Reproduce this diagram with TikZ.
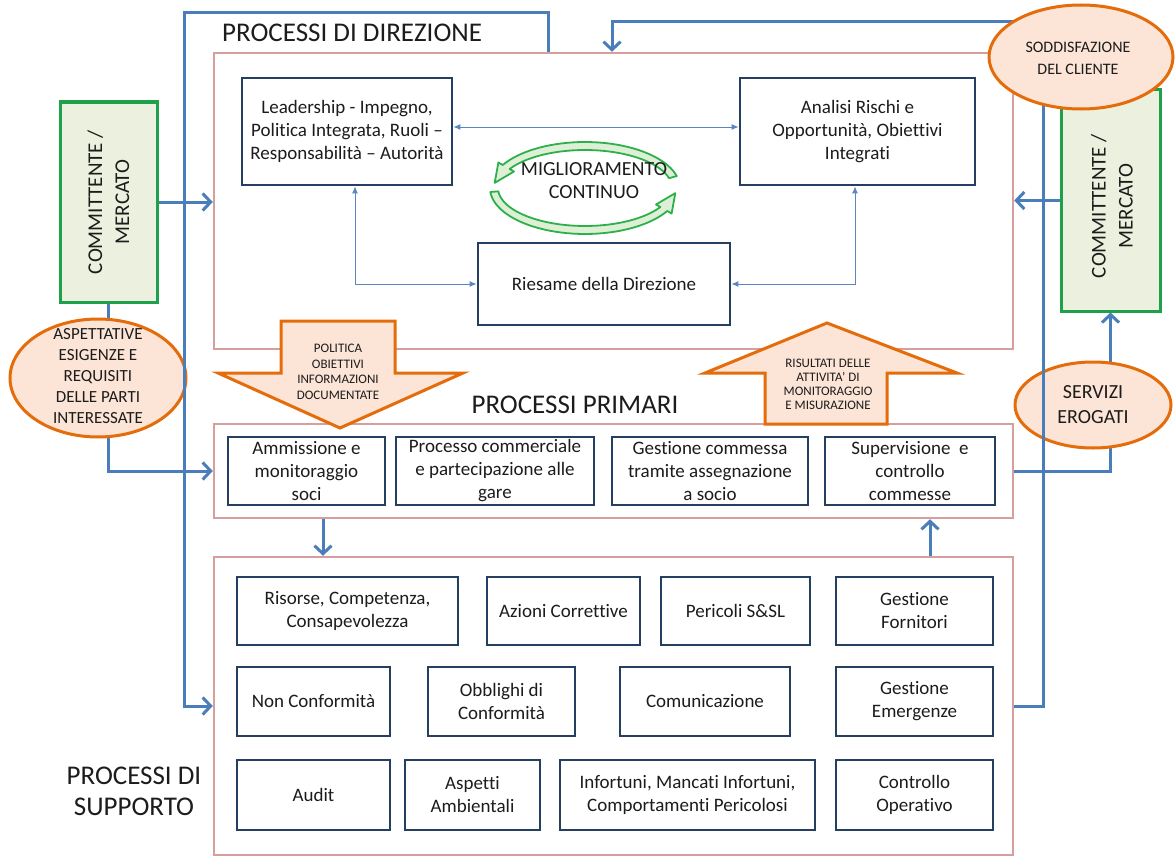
\documentclass[tikz,border=0pt]{standalone}
\usepackage{fontspec}
\setmainfont{Carlito}[Ligatures={NoCommon,NoRequired,NoContextual}, RawFeature=-calt]
\usetikzlibrary{arrows.meta,calc,shapes.geometric}
\definecolor{linkblue}{HTML}{4A7EBB}
\definecolor{framepink}{HTML}{D69E9C}
\definecolor{boxnavy}{HTML}{243F60}
\definecolor{thinblue}{HTML}{5B87C0}
\definecolor{cgreen}{HTML}{1FA04A}
\definecolor{cgreenfill}{HTML}{EBF1DE}
\definecolor{orangeline}{HTML}{E46C0A}
\definecolor{orangefill}{HTML}{FCE4D6}
\definecolor{turngreen}{HTML}{2DB04B}
\definecolor{turnfill}{HTML}{DDF0D5}
\definecolor{ink}{HTML}{1C1C1C}

\begin{document}
\begin{tikzpicture}[x=1pt,y=-1pt,
  every node/.style={text=ink},
  frame/.style={draw=framepink, line width=2.5pt, minimum width=799pt, inner sep=0pt},
  pbox/.style={draw=boxnavy, line width=2.8pt, fill=white, align=center, inner sep=1pt, font=\fontsize{19}{23}\selectfont},
  title/.style={font=\fontsize{27}{31}\selectfont, align=center, inner sep=0pt},
  link/.style={draw=linkblue, line width=3pt, -{Straight Barb[length=8pt,width=17pt]}},
  duo/.style={draw=thinblue, line width=1pt, {Latex[length=7pt,width=6pt]}-{Latex[length=7pt,width=6pt]}},
  client/.style={draw=cgreen, fill=cgreenfill, line width=3pt, inner sep=0pt},
  oval/.style={ellipse, draw=orangeline, fill=orangefill, line width=3pt, inner sep=0pt},
  ovaltext/.style={align=center, inner sep=0pt},
  block/.style={draw=orangeline, fill=orangefill, line width=3pt, line join=miter},
  turn/.style={draw=turngreen, fill=turnfill, line width=1.8pt, line join=round}
]
\useasboundingbox (0,0) rectangle (1176,859);
\fill[white] (0,0) rectangle (1176,859);

% process frames and their titles
\node[frame, minimum height=296pt] (dir) at (613.5,201) {};
\node[frame, minimum height=94pt] (prim) at (613.5,471) {};
\node[frame, minimum height=298pt] (supp) at (613.5,706) {};
\node[title, anchor=west] (tdir) at (222,33) {PROCESSI DI DIREZIONE};
\node[title] (tprim) at (575,405) {PROCESSI PRIMARI};
\node[title] (tsupp) at (134,791) {PROCESSI DI\\SUPPORTO};

% direction processes
\node[pbox, minimum width=210pt, minimum height=107pt] (lead) at (347,131.5) {Leadership - Impegno,\\Politica Integrata, Ruoli –\\Responsabilità – Autorità};
\node[pbox, minimum width=235pt, minimum height=107pt] (ana) at (857.5,131.5) {Analisi Rischi e\\Opportunità, Obiettivi\\Integrati};
\node[pbox, minimum width=252pt, minimum height=82pt] (rie) at (604,284) {Riesame della Direzione};

\draw[duo] ([yshift=4.5pt]lead.east) -- ([yshift=4.5pt]ana.west);
\coordinate (lr) at (355,284);
\coordinate (ar) at (855,284);
\draw[duo] (lead.south -| lr) |- (rie.west);
\draw[duo] (ana.south -| ar) |- (rie.east);

% continuous improvement cycle
\begin{scope}[shift={(585,188)}]
  \path[turn] plot[domain=-15:-150, samples=40, variable=\t] ({95*cos(\t)},{46*sin(\t)})
    -- (-150:100 and 51) -- (-173:91 and 42) -- (-150:82 and 33)
    -- plot[domain=-150:-15, samples=40, variable=\t] ({87*cos(\t)},{38*sin(\t)}) -- cycle;
  \path[turn] plot[domain=175:30, samples=40, variable=\t] ({95*cos(\t)},{46*sin(\t)})
    -- (30:100 and 51) -- (7:91 and 42) -- (30:82 and 33)
    -- plot[domain=30:175, samples=40, variable=\t] ({87*cos(\t)},{38*sin(\t)}) -- cycle;
\end{scope}
\node[align=center, font=\fontsize{20}{23}\selectfont] (mig) at (594,181) {MIGLIORAMENTO\\CONTINUO};

% primary processes
\node[pbox, minimum width=157pt, minimum height=68pt] (p1) at (306.5,471) {Ammissione e\\monitoraggio\\soci};
\node[pbox, minimum width=198pt, minimum height=68pt] (p2) at (495,471) {Processo commerciale\\e partecipazione alle\\gare};
\node[pbox, minimum width=196pt, minimum height=68pt] (p3) at (710,471) {Gestione commessa\\tramite assegnazione\\a socio};
\node[pbox, minimum width=170pt, minimum height=68pt] (p4) at (910,471) {Supervisione~ e\\controllo\\commesse};

% support processes
\node[pbox, minimum width=221pt, minimum height=68pt] (s11) at (347.5,611) {Risorse, Competenza,\\Consapevolezza};
\node[pbox, minimum width=153pt, minimum height=68pt] (s12) at (563.5,611) {Azioni Correttive};
\node[pbox, minimum width=149pt, minimum height=68pt] (s13) at (735.5,611) {Pericoli S\&SL};
\node[pbox, minimum width=157pt, minimum height=68pt] (s14) at (914.5,611) {Gestione\\Fornitori};
\node[pbox, minimum width=153pt, minimum height=69pt] (s21) at (313.5,701.5) {Non Conformità};
\node[pbox, minimum width=147pt, minimum height=69pt] (s22) at (501.5,701.5) {Obblighi di\\Conformità};
\node[pbox, minimum width=170pt, minimum height=69pt] (s23) at (705,701.5) {Comunicazione};
\node[pbox, minimum width=157pt, minimum height=69pt] (s24) at (914.5,701.5) {Gestione\\Emergenze};
\node[pbox, minimum width=153pt, minimum height=70pt] (s31) at (313.5,795) {Audit};
\node[pbox, minimum width=135pt, minimum height=70pt] (s32) at (472.5,795) {Aspetti\\Ambientali};
\node[pbox, minimum width=255pt, minimum height=70pt] (s33) at (687.5,795) {Infortuni, Mancati Infortuni,\\Comportamenti Pericolosi};
\node[pbox, minimum width=157pt, minimum height=70pt] (s34) at (914.5,795) {Controllo\\Operativo};

% block arrows between direction and primary processes
\path[block] (281,321) -- (395,321) -- (395,373) -- (463,373) -- (340,428) -- (218,373) -- (281,373) -- cycle;
\node[ovaltext, font=\fontsize{13}{15.5}\selectfont] (pol) at (338,372) {POLITICA\\OBIETTIVI\\INFORMAZIONI\\DOCUMENTATE};
\path[block] (827,323) -- (957,373) -- (887,373) -- (887,424) -- (765,424) -- (765,373) -- (705,373) -- cycle;
\node[ovaltext, font=\fontsize{13}{14}\selectfont] (ris) at (828,384) {RISULTATI DELLE\\ATTIVITA’ DI\\MONITORAGGIO\\E MISURAZIONE};

% customer / market
\node[client, minimum width=97pt, minimum height=200pt] (cl) at (108.5,202) {};
\node[rotate=90, align=center, font=\fontsize{21}{27}\selectfont] (cltxt) at (cl.center) {COMMITTENTE /\\MERCATO};
\node[client, minimum width=99pt, minimum height=221pt] (cr) at (1110.5,200.5) {};
\node[rotate=90, align=center, font=\fontsize{21}{27}\selectfont] (crtxt) at (1112,206) {COMMITTENTE /\\MERCATO};

% connectors
\coordinate (downx) at (323,0);
\coordinate (upx) at (930,0);
\draw[link] (cl.east) -- (dir.west |- cl.east);
\draw[link] (cr.west) -- (dir.east |- cr.west);
\draw[link] (cl.south) |- (prim.west);
\draw[link] (prim.east) -| (cr.south);
\draw[link] (prim.south -| downx) -- (supp.north -| downx);
\draw[link] (supp.north -| upx) -- (prim.south -| upx);

% stakeholder expectations and delivered services
\node[oval, minimum width=176pt, minimum height=118pt] (asp) at (98,378) {};
\node[ovaltext, font=\fontsize{17}{21}\selectfont] (asptxt) at (98,376) {ASPETTATIVE\\ESIGENZE E\\REQUISITI\\DELLE PARTI\\INTERESSATE};
\node[oval, minimum width=156pt, minimum height=86pt] (serv) at (1093,405) {};
\node[ovaltext, font=\fontsize{20}{25}\selectfont] (servtxt) at (1093,405) {SERVIZI\\EROGATI};

% outer feedback loops
\coordinate (lefttop) at (184,13);
\coordinate (leftstart) at (548,0);
\draw[link] (dir.north -| leftstart) |- (lefttop) |- (supp.west);
\coordinate (righttop) at (1043,22);
\coordinate (rightend) at (612,0);
\draw[link] (supp.east) -| (righttop) -| (dir.north -| rightend);

% customer satisfaction
\node[oval, minimum width=184pt, minimum height=104pt] (sodd) at (1081,57) {};
\node[ovaltext, font=\fontsize{16}{22}\selectfont] (soddtxt) at (1078,58) {SODDISFAZIONE\\DEL CLIENTE};
\end{tikzpicture}
\end{document}
